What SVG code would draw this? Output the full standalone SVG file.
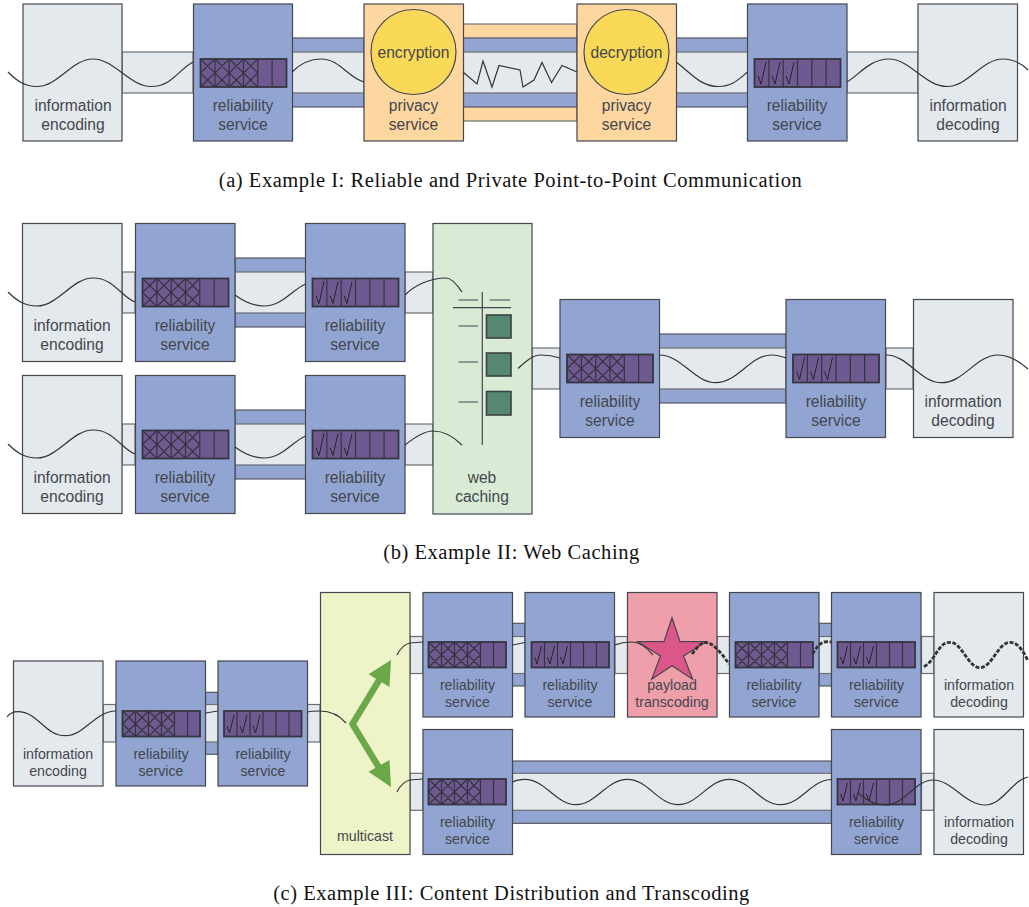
<svg xmlns="http://www.w3.org/2000/svg" width="1029" height="907" viewBox="0 0 1029 907">
<style>
.b{stroke:#45474f;stroke-width:1.2}
.info{fill:#e4e9ed}.rel{fill:#92a5d2}.prv{fill:#fdd6a0}.web{fill:#d9ebd5}.mc{fill:#eff4c8}.pay{fill:#ee9fa9}
.pipe{fill:#e4e9ed;stroke:#6c6e74;stroke-width:1.2}
.bp{fill:#92a5d2;stroke:#55575e;stroke-width:1.2}
.op{fill:#fdd6a0;stroke:#6c6e74;stroke-width:1.2}
.wave{fill:none;stroke:#333438;stroke-width:1.2}
.dash{fill:none;stroke:#333438;stroke-width:2.8;stroke-dasharray:4 1.6}
.buf{fill:#6e5a91;stroke:#36353f;stroke-width:1.8}
.cell{fill:none;stroke:#36353f;stroke-width:1.2}
.chk{fill:none;stroke:#26252c;stroke-width:1}
text{font-family:"Liberation Sans",Arial,sans-serif;fill:#44464d;text-anchor:middle}
.l{font-size:15.6px}.s{font-size:14.2px}
.cap{font-family:"Liberation Serif","Times New Roman",serif;font-size:20.5px;letter-spacing:.55px;fill:#111}
.sq{fill:#558870;stroke:#3d4144;stroke-width:1.6}
.ln{stroke:#45474f;stroke-width:1.2;fill:none}
</style>
<defs>
<g id="bufX"><rect class="buf" width="86" height="28"/><path class="cell" d="M14.4 0V28M28.7 0V28M43 0V28M57.3 0V28M71.6 0V28M0 0L14.4 14L0 28M14.4 0L0 14L14.4 28M14.4 0L28.7 14L14.4 28M28.7 0L14.4 14L28.7 28M28.7 0L43 14L28.7 28M43 0L28.7 14L43 28M43 0L57.3 14L43 28M57.3 0L43 14L57.3 28"/></g>
<g id="bufC"><rect class="buf" width="86" height="28"/><path class="cell" d="M14.4 0V28M28.7 0V28M43 0V28M57.3 0V28M71.6 0V28"/><path class="chk" d="M3.500 17L6.500 25L11.500 3M17.500 17L20.500 25L25.500 3M31.500 17L34.500 25L39.500 3"/></g>
<g id="bufXs"><rect class="buf" width="77.5" height="25.5"/><path class="cell" d="M13 0V25.5M26 0V25.5M39 0V25.5M52 0V25.5M65 0V25.5M0 0L13 12.7L0 25.5M13 0L0 12.7L13 25.5M13 0L26 12.7L13 25.5M26 0L13 12.7L26 25.5M26 0L39 12.7L26 25.5M39 0L26 12.7L39 25.5M39 0L52 12.7L39 25.5M52 0L39 12.7L52 25.5"/></g>
<g id="bufCs"><rect class="buf" width="77.5" height="25.5"/><path class="cell" d="M13 0V25.5M26 0V25.5M39 0V25.5M52 0V25.5M65 0V25.5"/><path class="chk" d="M3 15L5.500 22L10 4M16 15L18.500 22L23 4M29 15L31.500 22L36 4"/></g>
</defs>

<g id="connectors">
<rect class="op" x="463" y="24" width="114" height="97"/>
<rect class="bp" x="292" y="38" width="72" height="69"/>
<rect class="bp" x="463" y="38" width="114" height="69"/>
<rect class="bp" x="676" y="38" width="72" height="69"/>
<rect class="pipe" x="122" y="52" width="71" height="41"/>
<rect class="pipe" x="292" y="52" width="72" height="41"/>
<rect class="pipe" x="463" y="52" width="114" height="41"/>
<rect class="pipe" x="676" y="52" width="72" height="41"/>
<rect class="pipe" x="847" y="52" width="71" height="41"/>
<rect class="bp" x="235" y="258" width="71" height="69"/>
<rect class="pipe" x="122" y="272" width="13" height="41"/>
<rect class="pipe" x="235" y="272" width="71" height="41"/>
<rect class="pipe" x="405" y="272" width="28" height="41"/>
<rect class="bp" x="235" y="410" width="71" height="69"/>
<rect class="pipe" x="122" y="424" width="13" height="41"/>
<rect class="pipe" x="235" y="424" width="71" height="41"/>
<rect class="pipe" x="405" y="424" width="28" height="41"/>
<rect class="pipe" x="532" y="348" width="28" height="41"/>
<rect class="bp" x="659" y="334" width="127" height="69"/>
<rect class="pipe" x="659" y="348" width="127" height="41"/>
<rect class="pipe" x="886" y="348" width="27" height="41"/>
<rect class="bp" x="205.500" y="692.300" width="12.500" height="62"/>
<rect class="pipe" x="103" y="704.500" width="13" height="37.500"/>
<rect class="pipe" x="205.500" y="704.500" width="12.500" height="37.500"/>
<rect class="pipe" x="307.500" y="704.500" width="12.500" height="37.500"/>
<rect class="bp" x="512.500" y="623.300" width="12.500" height="62.700"/>
<rect class="bp" x="819" y="623.300" width="12.500" height="62.700"/>
<rect class="pipe" x="410" y="636.500" width="13" height="37"/>
<rect class="pipe" x="512.500" y="636.500" width="12.500" height="37"/>
<rect class="pipe" x="615" y="636.500" width="12.500" height="37"/>
<rect class="pipe" x="717" y="636.500" width="12.500" height="37"/>
<rect class="pipe" x="819" y="636.500" width="12.500" height="37"/>
<rect class="pipe" x="921.500" y="636.500" width="12.500" height="37"/>
<rect class="pipe" x="410" y="773.300" width="13" height="37"/>
<rect class="bp" x="512.500" y="761" width="319" height="62.300"/>
<rect class="pipe" x="512.500" y="773.300" width="319" height="37"/>
<rect class="pipe" x="921.500" y="773.300" width="12.500" height="37"/>
</g>

<g id="a-encoding"><rect class="info b" x="23" y="4" width="99" height="137"/><text class="l" x="73" y="111">information</text><text class="l" x="73" y="130">encoding</text></g>
<g id="a-rel1"><rect class="rel b" x="193.500" y="4" width="99" height="137"/><use href="#bufX" x="200.500" y="59"/><text class="l" x="243" y="111">reliability</text><text class="l" x="243" y="130">service</text></g>
<g id="a-priv1"><rect class="prv b" x="364" y="4" width="99.500" height="137"/><circle cx="413.500" cy="52" r="42.500" fill="#f9d957" stroke="#45474f" stroke-width="1.200"/><text class="l" x="413.500" y="57.500">encryption</text><text class="l" x="413.500" y="111">privacy</text><text class="l" x="413.500" y="130">service</text></g>
<g id="a-priv2"><rect class="prv b" x="577" y="4" width="99.500" height="137"/><circle cx="626.500" cy="52" r="42.500" fill="#f9d957" stroke="#45474f" stroke-width="1.200"/><text class="l" x="626.500" y="57.500">decryption</text><text class="l" x="626.500" y="111">privacy</text><text class="l" x="626.500" y="130">service</text></g>
<g id="a-rel2"><rect class="rel b" x="747.500" y="4" width="99.500" height="137"/><use href="#bufC" x="754.500" y="59"/><text class="l" x="797" y="111">reliability</text><text class="l" x="797" y="130">service</text></g>
<g id="a-decoding"><rect class="info b" x="918" y="4" width="99.500" height="137"/><text class="l" x="968" y="111">information</text><text class="l" x="968" y="130">decoding</text></g>
<text class="cap" x="510.500" y="187">(a) Example I: Reliable and Private Point-to-Point Communication</text>

<g id="b-enc1"><rect class="info b" x="22.500" y="223.500" width="99.500" height="138"/><text class="l" x="72" y="331">information</text><text class="l" x="72" y="350">encoding</text></g>
<g id="b-rel1"><rect class="rel b" x="135.500" y="223.500" width="99.500" height="138"/><use href="#bufX" x="142.500" y="278.500"/><text class="l" x="185" y="331">reliability</text><text class="l" x="185" y="350">service</text></g>
<g id="b-rel2"><rect class="rel b" x="305.500" y="223.500" width="99.500" height="138"/><use href="#bufC" x="312.500" y="278.500"/><text class="l" x="355" y="331">reliability</text><text class="l" x="355" y="350">service</text></g>
<g id="b-enc2"><rect class="info b" x="22.500" y="375.500" width="99.500" height="138"/><text class="l" x="72" y="483">information</text><text class="l" x="72" y="502">encoding</text></g>
<g id="b-rel3"><rect class="rel b" x="135.500" y="375.500" width="99.500" height="138"/><use href="#bufX" x="142.500" y="430.500"/><text class="l" x="185" y="483">reliability</text><text class="l" x="185" y="502">service</text></g>
<g id="b-rel4"><rect class="rel b" x="305.500" y="375.500" width="99.500" height="138"/><use href="#bufC" x="312.500" y="430.500"/><text class="l" x="355" y="483">reliability</text><text class="l" x="355" y="502">service</text></g>
<g id="b-web"><rect class="web b" x="433" y="223.500" width="99" height="290.500"/>
<path class="ln" d="M482.300 292V445M453 307.700H511M458.500 300H478M489.500 300H510M458.500 326H478M458.500 362H478M458.500 402H478"/>
<rect class="sq" x="486.500" y="315" width="24.500" height="23"/><rect class="sq" x="486.500" y="353" width="24.500" height="23"/><rect class="sq" x="486.500" y="391.500" width="24.500" height="23.500"/>
<text class="l" x="482" y="483">web</text><text class="l" x="482" y="502">caching</text></g>
<g id="b-rel5"><rect class="rel b" x="560" y="299.500" width="99.500" height="138"/><use href="#bufX" x="567" y="354.500"/><text class="l" x="610" y="407">reliability</text><text class="l" x="610" y="426">service</text></g>
<g id="b-rel6"><rect class="rel b" x="786" y="299.500" width="99.500" height="138"/><use href="#bufC" x="793" y="354.500"/><text class="l" x="836" y="407">reliability</text><text class="l" x="836" y="426">service</text></g>
<g id="b-dec"><rect class="info b" x="913.500" y="299.500" width="99.500" height="138"/><text class="l" x="963" y="407">information</text><text class="l" x="963" y="426">decoding</text></g>
<text class="cap" x="511.500" y="559">(b) Example II: Web Caching</text>

<g id="c-enc"><rect class="info b" x="13.500" y="661" width="89.500" height="125"/><text class="s" x="58" y="758.500">information</text><text class="s" x="58" y="775.500">encoding</text></g>
<g id="c-rel1"><rect class="rel b" x="116" y="661" width="89.500" height="125"/><use href="#bufXs" x="122.500" y="711"/><text class="s" x="161" y="758.500">reliability</text><text class="s" x="161" y="775.500">service</text></g>
<g id="c-rel2"><rect class="rel b" x="218" y="661" width="89.500" height="125"/><use href="#bufCs" x="224" y="711"/><text class="s" x="263" y="758.500">reliability</text><text class="s" x="263" y="775.500">service</text></g>
<g id="c-multicast"><rect class="mc b" x="320.500" y="592.500" width="89.500" height="262"/>
<path d="M381 677L352.500 724L381 771" fill="none" stroke="#6aa84a" stroke-width="6.500"/>
<path d="M391 660L368.500 674.300L389.500 687ZM391 787L368.500 771.700L389.500 760Z" fill="#6aa84a"/>
<text class="s" x="365" y="841">multicast</text></g>
<g id="c-rel3"><rect class="rel b" x="423" y="592.500" width="89.500" height="124.500"/><use href="#bufXs" x="428.500" y="642"/><text class="s" x="467.500" y="690">reliability</text><text class="s" x="467.500" y="707">service</text></g>
<g id="c-rel4"><rect class="rel b" x="525" y="592.500" width="89.500" height="124.500"/><use href="#bufCs" x="531.500" y="642"/><text class="s" x="570" y="690">reliability</text><text class="s" x="570" y="707">service</text></g>
<g id="c-payload"><rect class="pay b" x="627.500" y="592.500" width="89.500" height="124.500"/>
<path d="M672 617.700L680 641.700H706L683.500 656L692.700 679.300L672 665.700L651.700 679.300L660.500 656L637.700 641.700H664Z" fill="#db5789" stroke="#45474f" stroke-width="1.200"/>
<text class="s" x="672" y="690">payload</text><text class="s" x="672" y="707">transcoding</text></g>
<g id="c-rel5"><rect class="rel b" x="729.500" y="592.500" width="89.500" height="124.500"/><use href="#bufXs" x="735.500" y="642"/><text class="s" x="774" y="690">reliability</text><text class="s" x="774" y="707">service</text></g>
<g id="c-rel6"><rect class="rel b" x="831.500" y="592.500" width="89.500" height="124.500"/><use href="#bufCs" x="837.500" y="642"/><text class="s" x="876.500" y="690">reliability</text><text class="s" x="876.500" y="707">service</text></g>
<g id="c-dec1"><rect class="info b" x="934" y="592.500" width="89.500" height="124.500"/><text class="s" x="979" y="690">information</text><text class="s" x="979" y="707">decoding</text></g>
<g id="c-rel7"><rect class="rel b" x="423" y="729.500" width="89.500" height="125"/><use href="#bufXs" x="428.500" y="779"/><text class="s" x="467.500" y="827">reliability</text><text class="s" x="467.500" y="844">service</text></g>
<g id="c-rel8"><rect class="rel b" x="831.500" y="729.500" width="89.500" height="125"/><use href="#bufCs" x="837.500" y="779"/><text class="s" x="876.500" y="827">reliability</text><text class="s" x="876.500" y="844">service</text></g>
<g id="c-dec2"><rect class="info b" x="934" y="729.500" width="89.500" height="125"/><text class="s" x="979" y="827">information</text><text class="s" x="979" y="844">decoding</text></g>
<text class="cap" x="511.500" y="900">(c) Example III: Content Distribution and Transcoding</text>

<g id="signals">
<path class="wave" d="M8 72C16 80 24 86.500 37 86.500C58 86.500 72 59 93 59C114 59 130 86.500 151 86.500C172 86.500 178 70 193 62"/>
<path class="wave" d="M292 72C300 64 310 59 321 59C340 59 348 78 364 82"/>
<path class="wave" d="M463 72L477 84L483 61L492 87L499 65.500L520 70L523 87L534 80L542 62.500L551.500 82.500L562 65.500L577 72"/>
<path class="wave" d="M676 62C690 72 700 86.500 718 86.500C732 86.500 738 80 747.500 72"/>
<path class="wave" d="M847 82C860 74 870 59 889 59C910 59 925 86.500 947 86.500C968 86.500 982 59 1003 59C1014 59 1022 64 1028 70"/>
<path class="wave" d="M8 292C16 300 24 306 37 306C58 306 72 278 93 278C114 278 120 296 135 302"/>
<path class="wave" d="M235 295C243 301 252 306 264 306C282 306 292 290 305.500 284"/>
<path class="wave" d="M405 295C415 285 430 278 446 278C452 278 458 286 462 292"/>
<path class="wave" d="M8 444C16 452 24 458 37 458C58 458 72 430 93 430C114 430 120 448 135 454"/>
<path class="wave" d="M235 447C243 453 252 458 264 458C282 458 292 442 305.500 436"/>
<path class="wave" d="M405 445C415 437 425 431 433 431C445 431 455 438 462 445"/>
<path class="wave" d="M518 368.500C525 362 532 355 541 355C548 355 554 356 560 358"/>
<path class="wave" d="M659 355C682 355 694 382.700 716 382.700C738 382.700 750 355 771.700 355C777 355 782 356.500 786.500 358"/>
<path class="wave" d="M886 355C908 355 920 382.700 941.700 382.700C964 382.700 976 355 998.300 355C1010 355 1020 362 1028 369"/>
<path class="wave" d="M7 717C10 713 14 711.700 18 711.700C38 711.700 45 735.700 65 735.700C85 735.700 95 711 116 711"/>
<path class="wave" d="M205.500 713L218 711"/>
<path class="wave" d="M307.500 712C312 711 316 711 320 711C332 711 340 716 346 723"/>
<path class="wave" d="M397 655C400 649 405 644 410 643L423 642"/>
<path class="wave" d="M512.500 645L525 642.500"/>
<path class="wave" d="M614.700 645C620 643 625 642 632 642C640 642 647 648 653 655"/>
<path class="dash" d="M692 654C696 649 700 643 705 642.500C713 642 722 654 729 664"/>
<path class="dash" d="M812.500 654C816 648 820 642 826.700 641.700L831.500 642"/>
<path class="dash" d="M924 666.700C936 660 938 642.300 950 642.300C962 642.300 968 667.700 980 667.700C992 667.700 998 642.300 1010 642.300C1018 642.300 1024 652 1028 661"/>
<path class="wave" d="M397 792C400 786 405 781 410 780L423 779"/>
<path class="wave" d="M512.700 782C516 780 520 779.300 525 779.300C545 779.300 556 804.700 576 804.700C596 804.700 607 779.300 627.300 779.300C648 779.300 658 804.700 678.300 804.700C698 804.700 709 779.300 729.300 779.300C750 779.300 760 804.700 780.700 804.700C801 804.700 811 779.500 831.700 779.500"/>
<path class="wave" d="M858 793C866 800 874 805 885 805C905 805 915 780 933 780C952 780 965 805 985 805C1003 805 1012 780 1028 777"/>
</g>
</svg>
